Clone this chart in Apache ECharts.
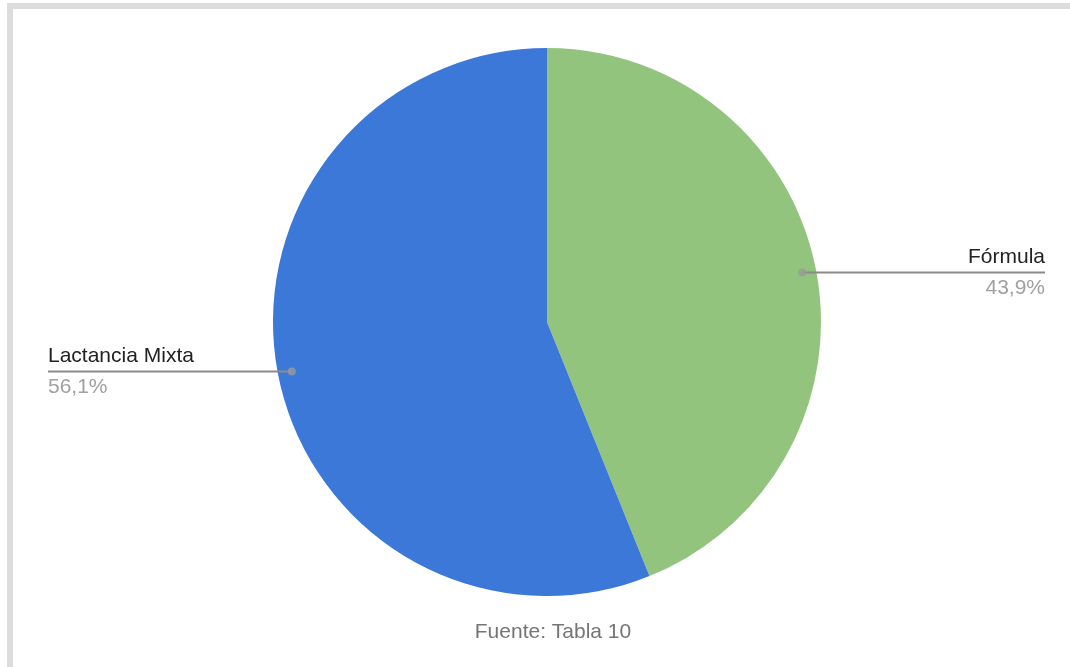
<!DOCTYPE html>
<html>
<head>
<meta charset="utf-8">
<script src="https://cdn.jsdelivr.net/npm/echarts@6/dist/echarts.min.js"></script>
<style>
  html, body { margin: 0; padding: 0; background: #fff; }
  #chart { width: 1070px; height: 667px; }
</style>
</head>
<body>
<div id="chart"></div>
<script>
// Data
const categories = ['Fórmula', 'Lactancia Mixta'];
const values = [43.9, 56.1];
const percentLabels = ['43,9%', '56,1%'];
const colors = ['#93c47d', '#3c78d8'];
const sourceNote = 'Fuente: Tabla 10';

// Layout constants
const CX = 547, CY = 322, R = 274, DOT_R = 260;
const LEFT_EDGE = 48, RIGHT_EDGE = 1045;

const total = values.reduce((a, b) => a + b, 0);
const mids = [];
let cum = 0;
values.forEach(v => { mids.push(cum + v / 2); cum += v; });

function dotPos(i) {
  const a = mids[i] / total * 2 * Math.PI;
  return [CX + DOT_R * Math.sin(a), CY - DOT_R * Math.cos(a)];
}

const chart = echarts.init(document.getElementById('chart'), null, { renderer: 'canvas' });
const FONT = '"Liberation Sans", Arial, sans-serif';

const pieData = categories.map((c, i) => ({ name: c, value: values[i], itemStyle: { color: colors[i] } }));

chart.setOption({
  animation: false,
  backgroundColor: '#fff',
  textStyle: { fontFamily: FONT },
  graphic: [
    { type: 'rect', shape: { x: 7, y: 3, width: 1063, height: 6 }, style: { fill: '#dcdcdc' }, z: 100 },
    { type: 'rect', shape: { x: 7, y: 3, width: 6, height: 664 }, style: { fill: '#dcdcdc' }, z: 100 },
    { type: 'text', x: 553, y: 632, style: { text: sourceNote, fill: '#757575', font: '21px ' + FONT, textAlign: 'center', textVerticalAlign: 'middle' } }
  ],
  polar: { center: [CX, CY], radius: R },
  angleAxis: { type: 'value', min: 0, max: total, startAngle: 90, clockwise: true, show: false },
  radiusAxis: { type: 'value', min: 0, max: R, show: false },
  series: [
    {
      type: 'pie',
      center: [CX, CY],
      radius: R,
      startAngle: 90,
      clockwise: true,
      data: pieData,
      label: { show: false },
      labelLine: { show: false },
      emphasis: { disabled: true },
      silent: true,
      z: 1
    },
    {
      type: 'pie',
      center: [CX, CY],
      radius: R,
      startAngle: 90,
      clockwise: true,
      data: pieData.map(d => ({ name: d.name, value: d.value })),
      itemStyle: { color: 'rgba(0,0,0,0)' },
      label: {
        show: true,
        formatter: p => '{n|' + p.name + '}\n{p|' + percentLabels[p.dataIndex] + '}',
        rich: {
          n: { fontSize: 21, lineHeight: 31, color: '#222222', fontFamily: FONT },
          p: { fontSize: 21, lineHeight: 31, color: '#a0a0a0', fontFamily: FONT }
        }
      },
      labelLine: { show: true, lineStyle: { color: '#8a8a8a', width: 2 } },
      labelLayout: function (params) {
        const i = params.dataIndex;
        const d = dotPos(i);
        const right = d[0] > CX;
        const ex = right ? RIGHT_EDGE : LEFT_EDGE;
        return {
          x: ex,
          y: d[1],
          align: right ? 'right' : 'left',
          verticalAlign: 'middle',
          labelLinePoints: [[d[0], d[1]], [ex, d[1]], [ex, d[1]]]
        };
      },
      emphasis: { disabled: true },
      silent: true,
      z: 5
    },
    {
      type: 'scatter',
      coordinateSystem: 'polar',
      symbol: 'circle',
      symbolSize: 8,
      itemStyle: { color: '#9a9a9a' },
      data: mids.map(m => [DOT_R, m]),
      silent: true,
      z: 10
    }
  ]
});
</script>
</body>
</html>
